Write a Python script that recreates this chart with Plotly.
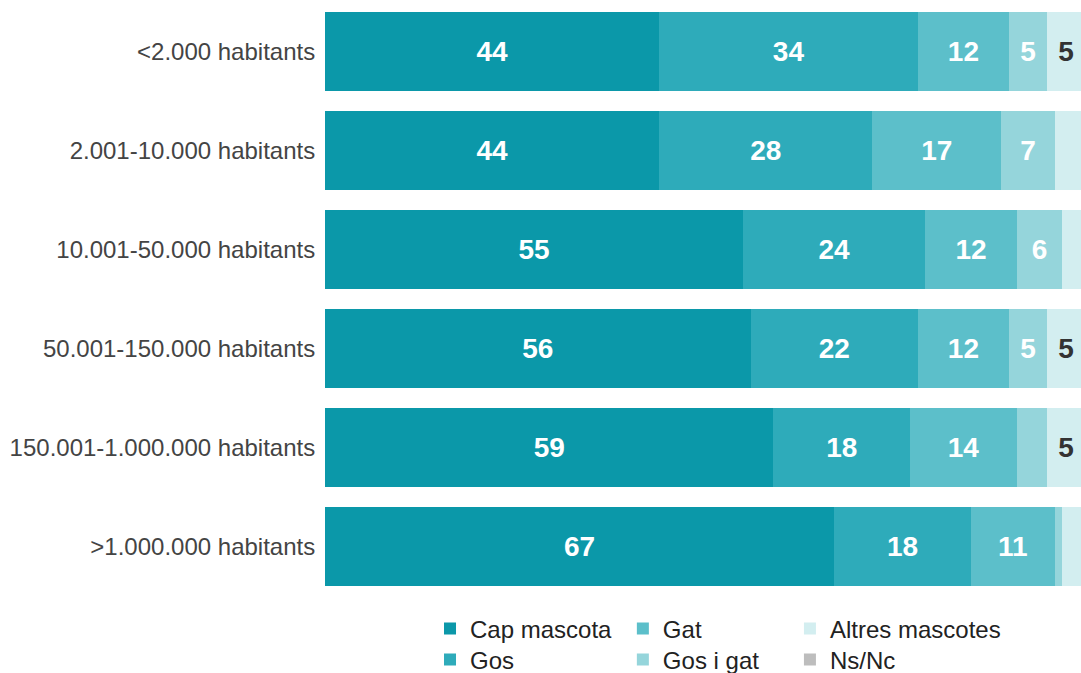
import plotly.graph_objects as go

categories = ["<2.000 habitants", "2.001-10.000 habitants", "10.001-50.000 habitants",
              "50.001-150.000 habitants", "150.001-1.000.000 habitants", ">1.000.000 habitants"]

cap_mascota = [44, 44, 55, 56, 59, 67]
gos = [34, 28, 24, 22, 18, 18]
gat = [12, 17, 12, 12, 14, 11]
gos_i_gat = [5, 7, 6, 5, 4, 1]
altres = [5, 4, 3, 5, 5, 3]
ns_nc = [0, 0, 0, 0, 0, 0]

series_names = ["Cap mascota", "Gos", "Gat", "Gos i gat", "Altres mascotes", "Ns/Nc"]
series_values = [cap_mascota, gos, gat, gos_i_gat, altres, ns_nc]
series_colors = ["#0B98A9", "#2EABBA", "#5CBFCA", "#95D5DB", "#D3EEF0", "#BDBDBD"]
label_colors = ["white", "white", "white", "white", "#333333", "#333333"]

# legend layout: three columns x two rows (column-major order)
legend_ids = ["legend", "legend2", "legend3", "legend4", "legend5", "legend6"]
legend_x = [0.1389, 0.1389, 0.394, 0.394, 0.615, 0.615]
legend_y = [1 - 629 / 673, 1 - 660 / 673] * 3

fig = go.Figure()
for name, vals, color, tcolor, lid in zip(series_names, series_values, series_colors,
                                          label_colors, legend_ids):
    fig.add_trace(go.Bar(
        name=name, y=categories, x=vals, orientation="h",
        marker=dict(color=color, line=dict(width=0)),
        text=[str(v) if v >= 5 else "" for v in vals],
        textposition="inside", insidetextanchor="middle",
        textfont=dict(family="Liberation Sans, Arial", size=28, color=tcolor, weight="bold"),
        legend=lid,
        hoverinfo="skip",
    ))

legend_layout = {}
for i, lid in enumerate(legend_ids):
    legend_layout[lid] = dict(
        orientation="v", xref="paper", yref="container",
        x=legend_x[i], xanchor="left", y=legend_y[i], yanchor="middle",
        font=dict(size=24, color="#222222", family="Liberation Sans, Arial"),
        bgcolor="rgba(0,0,0,0)", borderwidth=0,
    )

fig.update_layout(
    width=1081, height=673,
    barmode="stack", bargap=0.2,
    plot_bgcolor="white", paper_bgcolor="white",
    margin=dict(l=325, r=0, t=2, b=77),
    font=dict(family="Liberation Sans, Arial", color="#444444"),
    xaxis=dict(range=[0, 99.47], visible=False, fixedrange=True),
    yaxis=dict(autorange="reversed", ticks="outside", ticklen=4, tickcolor="rgba(0,0,0,0)",
               tickfont=dict(size=24, color="#444444"), showgrid=False, showline=False,
               fixedrange=True),
    showlegend=True,
    uniformtext=dict(minsize=28, mode="show"),
    **legend_layout,
)

fig.write_html("out.html", config={"displayModeBar": False},
               post_script="document.body.style.margin='0';document.body.style.overflow='hidden';")
